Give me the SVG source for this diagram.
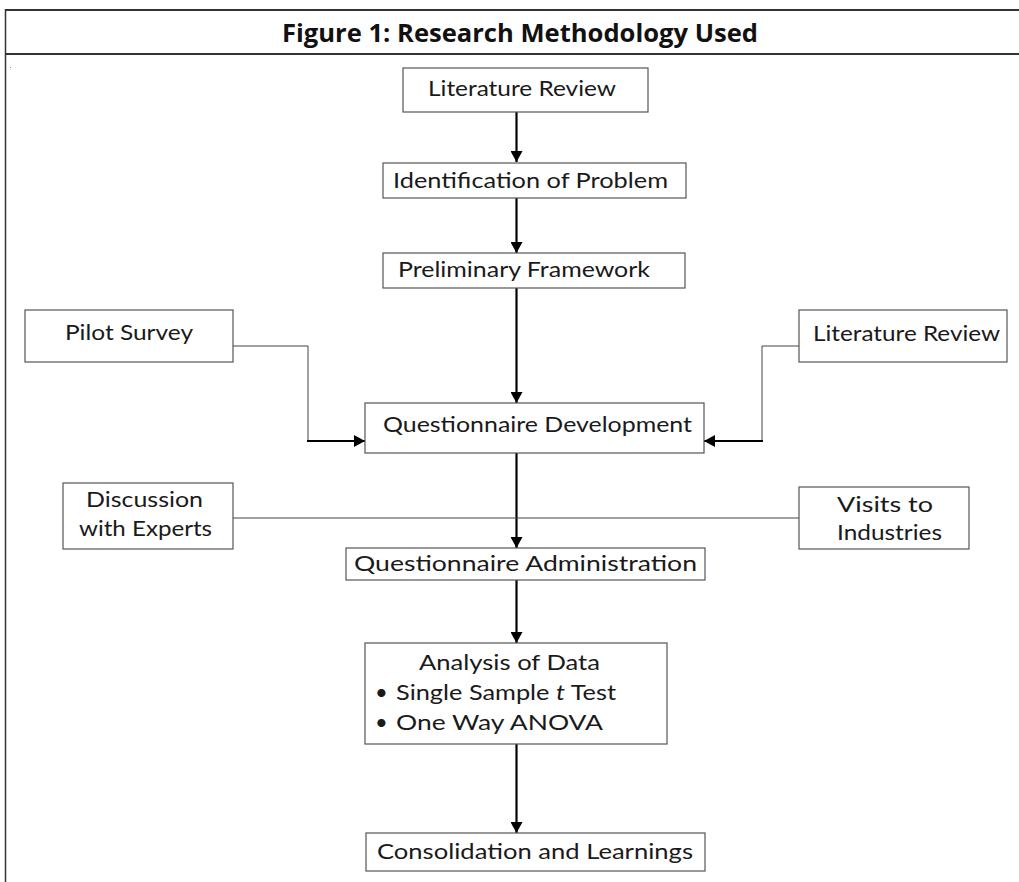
<svg xmlns="http://www.w3.org/2000/svg" width="1019" height="882" viewBox="0 0 1019 882">
<style>
.box{fill:#fff;stroke:#555;stroke-width:1.2}
.t{font-family:Lato,"Open Sans","Liberation Sans",sans-serif;font-size:22px;fill:#1a1a1a}
.arr{stroke:#000;stroke-width:2.2;fill:none}
.thin{stroke:#444;stroke-width:1;fill:none}
.frame{stroke:#333;fill:none}
</style>
<defs>
<marker id="ah" markerUnits="userSpaceOnUse" markerWidth="12" markerHeight="12" refX="11" refY="6" orient="auto">
<path d="M0,0 L11,6 L0,12 z" fill="#000"/>
</marker>
</defs>
<rect width="1019" height="882" fill="#fff"/>
<g id="frame">
<line class="frame" x1="5" y1="10" x2="1019" y2="10" stroke-width="2" stroke="#555"/>
<line class="frame" x1="5" y1="54" x2="1019" y2="54" stroke-width="2"/>
<line class="frame" x1="5.5" y1="9" x2="5.5" y2="882" stroke-width="1.5"/>
<text x="520" y="42" text-anchor="middle" font-family="'Open Sans','Liberation Sans',sans-serif" font-weight="bold" font-size="25" textLength="476" lengthAdjust="spacingAndGlyphs" fill="#111">Figure 1: Research Methodology Used</text>
<rect x="10" y="67" width="1" height="1" fill="#888"/>
</g>
<g id="connectors">
<line class="arr" x1="516.5" y1="112" x2="516.5" y2="162" marker-end="url(#ah)"/>
<line class="arr" x1="516.5" y1="198" x2="516.5" y2="253" marker-end="url(#ah)"/>
<line class="arr" x1="516.5" y1="288" x2="516.5" y2="403" marker-end="url(#ah)"/>
<line class="arr" x1="516.5" y1="453" x2="516.5" y2="548" marker-end="url(#ah)"/>
<line class="arr" x1="516.5" y1="580" x2="516.5" y2="643" marker-end="url(#ah)"/>
<line class="arr" x1="516.5" y1="744" x2="516.5" y2="833" marker-end="url(#ah)"/>
<polyline class="thin" points="233,346 308,346 308,441"/>
<line class="arr" x1="307" y1="441" x2="365" y2="441" marker-end="url(#ah)"/>
<polyline class="thin" points="799,346 762,346 762,441"/>
<line class="arr" x1="763" y1="441" x2="704" y2="441" marker-end="url(#ah)"/>
<line class="thin" x1="233" y1="518" x2="799" y2="518" stroke="#555"/>
</g>
<g id="lit1">
<rect class="box" x="403" y="68" width="245" height="44"/>
<text class="t" x="428" y="96" textLength="188" lengthAdjust="spacingAndGlyphs">Literature Review</text>
</g>
<g id="ident">
<rect class="box" x="383" y="163" width="303" height="35"/>
<text class="t" x="393" y="188" textLength="275" lengthAdjust="spacingAndGlyphs">Identification of Problem</text>
</g>
<g id="prelim">
<rect class="box" x="383" y="253" width="302" height="35"/>
<text class="t" x="398" y="277" textLength="252" lengthAdjust="spacingAndGlyphs">Preliminary Framework</text>
</g>
<g id="pilot">
<rect class="box" x="25" y="310" width="208" height="52"/>
<text class="t" x="65" y="340" textLength="128" lengthAdjust="spacingAndGlyphs">Pilot Survey</text>
</g>
<g id="lit2">
<rect class="box" x="799" y="310" width="208" height="52"/>
<text class="t" x="813" y="341" textLength="187" lengthAdjust="spacingAndGlyphs">Literature Review</text>
</g>
<g id="qdev">
<rect class="box" x="365" y="403" width="339" height="50"/>
<text class="t" x="383" y="432" textLength="309" lengthAdjust="spacingAndGlyphs">Questionnaire Development</text>
</g>
<g id="experts">
<rect class="box" x="63" y="483" width="170" height="66"/>
<text class="t" x="86" y="507" textLength="117" lengthAdjust="spacingAndGlyphs">Discussion</text>
<text class="t" x="79" y="536" textLength="133" lengthAdjust="spacingAndGlyphs">with Experts</text>
</g>
<g id="visits">
<rect class="box" x="799" y="487" width="170" height="62"/>
<text class="t" x="837" y="512" textLength="96" lengthAdjust="spacingAndGlyphs">Visits to</text>
<text class="t" x="837" y="540" textLength="105" lengthAdjust="spacingAndGlyphs">Industries</text>
</g>
<g id="qadmin">
<rect class="box" x="346" y="548" width="359" height="32"/>
<text class="t" x="354" y="571" textLength="343" lengthAdjust="spacingAndGlyphs">Questionnaire Administration</text>
</g>
<g id="analysis">
<rect class="box" x="365" y="643" width="302" height="101"/>
<text class="t" x="419" y="670" textLength="181" lengthAdjust="spacingAndGlyphs">Analysis of Data</text>
<text class="t" x="375" y="700">•</text>
<text class="t" x="396" y="700" textLength="220" lengthAdjust="spacingAndGlyphs">Single Sample <tspan font-style="italic">t</tspan> Test</text>
<text class="t" x="375" y="730">•</text>
<text class="t" x="396" y="730" textLength="207" lengthAdjust="spacingAndGlyphs">One Way ANOVA</text>
</g>
<g id="consol">
<rect class="box" x="366" y="833" width="339" height="38"/>
<text class="t" x="377" y="859" textLength="316" lengthAdjust="spacingAndGlyphs">Consolidation and Learnings</text>
</g>
</svg>
